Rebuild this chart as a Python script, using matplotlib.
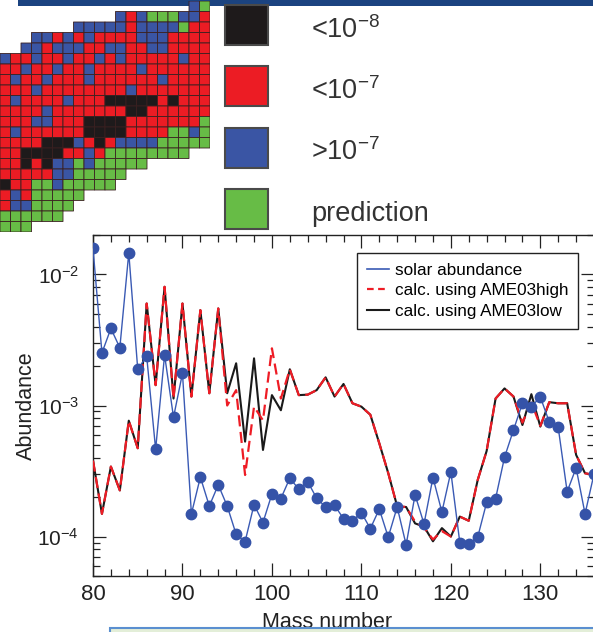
import numpy as np
import matplotlib
matplotlib.use("Agg")
import matplotlib.pyplot as plt
from matplotlib.colors import ListedColormap
from matplotlib.lines import Line2D
from matplotlib.patches import Rectangle
from matplotlib.ticker import LogLocator, MultipleLocator, NullFormatter

plt.rcParams['font.family'] = ['Liberation Sans', 'DejaVu Sans']
plt.rcParams['mathtext.fontset'] = 'custom'
plt.rcParams['mathtext.rm'] = 'Liberation Sans'
plt.rcParams['mathtext.it'] = 'Liberation Sans:italic'
plt.rcParams['mathtext.bf'] = 'Liberation Sans:bold'

# nuclide chart cells, k: <1e-8, r: <1e-7, b: >1e-7, g: prediction
chart_rows = [
    "..................bg",
    "...........brbgggbbr",
    ".......bbbbbrbbbbgrr",
    "...bbrbrbrrrrbbbrrrr",
    "..bbrbbbrrbbrrbbrrrr",
    "brrbrrbrrbrbrrrrrbrr",
    "rrbrrbrrbrrrrbrrrrrr",
    "rbrrbrrrbrrrrrrbrrrr",
    "rrrbrrrrrrrrbrrrrrrr",
    "rbrrrrbrrrkkkkkrkrrr",
    "rrrrbrrrrrrrkkrrrrrr",
    "rrrbbrrrkkkkrrrrrrrg",
    "rbrrrrrrkkkkrrrrggbg",
    "rrrrkkkbrkrbbbbggggg",
    "rrkkkkrrbrgggggggg..",
    "rrkrkbbgbggggg......",
    "rrrrrbbggggg........",
    "krrggbggggg.........",
    "rbrggggg............",
    "rbbgggg.............",
    "gggggg..............",
    "ggg.................",
]
chart_codes = {'k': 0, 'r': 1, 'b': 2, 'g': 3}
key_colors = ['#1e1a1b', '#ec1c24', '#3a55a4', '#67bc46']
key_labels = ['<10$^{-8}$', '<10$^{-7}$', '>10$^{-7}$', 'prediction']

# abundance vs mass number
mass = list(range(80, 137))
solar = [1.58e-2, 2.52e-3, 3.87e-3, 2.76e-3, 1.46e-2, 1.89e-3, 2.38e-3, 4.63e-4,
         2.43e-3, 8.13e-4, 1.76e-3, 1.49e-4, 2.84e-4, 1.71e-4, 2.48e-4, 1.71e-4,
         1.04e-4, 9.16e-5, 1.75e-4, 1.28e-4, 2.11e-4, 1.95e-4, 2.79e-4, 2.30e-4,
         2.62e-4, 1.96e-4, 1.68e-4, 1.73e-4, 1.37e-4, 1.32e-4, 1.52e-4, 1.15e-4,
         1.62e-4, 9.9e-5, 1.68e-4, 8.65e-5, 2.08e-4, 1.25e-4, 2.82e-4, 1.54e-4,
         3.11e-4, 9.0e-5, 8.75e-5, 9.9e-5, 1.82e-4, 1.95e-4, 4.03e-4, 6.5e-4,
         1.04e-3, 9.8e-4, 1.16e-3, 7.5e-4, 6.8e-4, 2.2e-4, 3.34e-4, 1.49e-4, 3.0e-4]
ame03low = [3.8e-4, 1.49e-4, 3.42e-4, 2.25e-4, 7.66e-4, 4.72e-4, 6.0e-3, 1.43e-3,
            8.05e-3, 1.13e-3, 6.0e-3, 1.17e-3, 5.34e-3, 1.24e-3, 5.5e-3, 1.24e-3,
            2.1e-3, 5.3e-4, 2.29e-3, 4.58e-4, 1.2e-3, 9.2e-4, 1.89e-3, 1.2e-3,
            1.21e-3, 1.31e-3, 1.64e-3, 1.17e-3, 1.46e-3, 1.04e-3, 9.8e-4, 8.5e-4,
            5.15e-4, 3.05e-4, 1.7e-4, 1.68e-4, 1.26e-4, 1.19e-4, 9.2e-5, 1.16e-4,
            1.0e-4, 1.42e-4, 1.32e-4, 2.7e-4, 4.5e-4, 1.13e-3, 1.35e-3, 1.17e-3,
            7.1e-4, 1.22e-3, 6.9e-4, 1.06e-3, 1.04e-3, 1.04e-3, 4.2e-4, 3.04e-4, 2.95e-4]
ame03high = [3.8e-4, 1.49e-4, 3.42e-4, 2.25e-4, 7.66e-4, 4.72e-4, 6.0e-3, 1.43e-3,
             8.05e-3, 1.13e-3, 6.0e-3, 1.17e-3, 5.34e-3, 1.24e-3, 5.5e-3, 1.0e-3,
             1.31e-3, 2.95e-4, 9.8e-4, 7.7e-4, 2.73e-3, 1.13e-3, 1.89e-3, 1.2e-3,
             1.21e-3, 1.31e-3, 1.64e-3, 1.17e-3, 1.46e-3, 1.04e-3, 9.8e-4, 8.5e-4,
             5.15e-4, 3.05e-4, 1.7e-4, 1.68e-4, 1.3e-4, 1.17e-4, 9.5e-5, 1.1e-4,
             1.0e-4, 1.42e-4, 1.32e-4, 2.7e-4, 4.5e-4, 1.13e-3, 1.35e-3, 1.17e-3,
             7.4e-4, 1.05e-3, 7.0e-4, 1.06e-3, 1.04e-3, 1.04e-3, 4.2e-4, 3.04e-4, 2.95e-4]

W, H = 593, 632
fig = plt.figure(figsize=(W / 100, H / 100), dpi=100)

# dark blue banner along the top
fig.add_artist(Rectangle((18 / W, 1 - 6 / H), 1, 6 / H, transform=fig.transFigure,
                         facecolor='#1b4380', edgecolor='none', zorder=-1))

# nuclide chart
grid = np.ma.masked_equal(
    np.array([[chart_codes.get(c, -1) for c in row] for row in chart_rows]), -1)
axg = fig.add_axes([0, 1 - 232 / H, 210 / W, 231 / H])
axg.pcolor(grid, cmap=ListedColormap(key_colors), vmin=-0.5, vmax=3.5,
           edgecolors='#3a2020', linewidth=0.6)
axg.set_xlim(0, len(chart_rows[0]))
axg.set_ylim(len(chart_rows), 0)
axg.axis('off')

# colour key, laid out in pixels of the upper right panel
axk = fig.add_axes([210 / W, 1 - 235 / H, (W - 210) / W, 235 / H])
axk.set_xlim(0, W - 210)
axk.set_ylim(235, 0)
axk.axis('off')
for i, (c, lab) in enumerate(zip(key_colors, key_labels)):
    top = 5 + 61.3 * i
    axk.add_patch(Rectangle((15, top), 43, 40, facecolor=c, edgecolor='#4a4a4a', lw=1.5))
    axk.text(101, top + 25, lab, fontsize=19.5, color='#333333', va='center', ha='left')

# abundance plot
ax = fig.add_axes([93 / W, 56 / H, 501 / W, 341 / H])
ax.plot(mass, ame03low, color='#1a1a1a', lw=1.5, zorder=2)
ax.plot(mass, ame03high, color='#ee1c25', lw=1.6, dashes=(5, 2.5), zorder=3)
ax.plot(mass, solar, color='#3a5ab4', lw=1.0, marker='o', ms=7.5, mfc='#3553a8',
        mec='#3553a8', zorder=4)

ax.set_yscale('log')
ax.set_xlim(80, 136)
ax.set_ylim(5e-5, 2e-2)
ax.xaxis.set_major_locator(MultipleLocator(10))
ax.xaxis.set_minor_locator(MultipleLocator(2))
ax.yaxis.set_major_locator(LogLocator(base=10, numticks=10))
ax.yaxis.set_minor_locator(LogLocator(base=10, subs=np.arange(2, 10), numticks=20))
ax.yaxis.set_minor_formatter(NullFormatter())
ax.tick_params(which='both', direction='in', top=True, right=True, colors='#222222')
ax.tick_params(which='major', length=9.5, width=0.9, labelsize=16)
ax.tick_params(which='minor', length=5, width=0.9)
ax.tick_params(axis='x', which='major', pad=6)
ax.tick_params(axis='y', which='major', pad=10, labelsize=15)
for s in ax.spines.values():
    s.set_linewidth(1.0)
    s.set_color('#222222')

ax.set_xlabel('Mass number', fontsize=15.5, color='#222222')
ax.xaxis.set_label_coords(0.467, -0.105)
ax.set_ylabel('Abundance', fontsize=15.5, color='#222222')
ax.yaxis.set_label_coords(-0.112, 0.5)

legend_lines = [Line2D([], [], color='#3a5ab4', lw=1.2),
                Line2D([], [], color='#ee1c25', lw=1.6, dashes=(3, 2)),
                Line2D([], [], color='#1a1a1a', lw=1.5)]
legend_labels = ['solar abundance', 'calc. using AME03high', 'calc. using AME03low']
leg = ax.legend(legend_lines, legend_labels, loc='upper left',
                bbox_to_anchor=(0.527, 0.947), fontsize=12.3, fancybox=False,
                edgecolor='#222222', framealpha=1, handlelength=1.3, handletextpad=0.3,
                labelspacing=0.3, borderpad=0.6, borderaxespad=0)
leg.get_frame().set_linewidth(1.0)

# pale box cut off at the bottom edge
fig.add_artist(Rectangle((110 / W, -0.01), 1, 0.01 + 4 / H, transform=fig.transFigure,
                         facecolor='#e3eed8', edgecolor='#5a8fd0', lw=1.5, zorder=10))

fig.savefig('out.png', dpi=100)
